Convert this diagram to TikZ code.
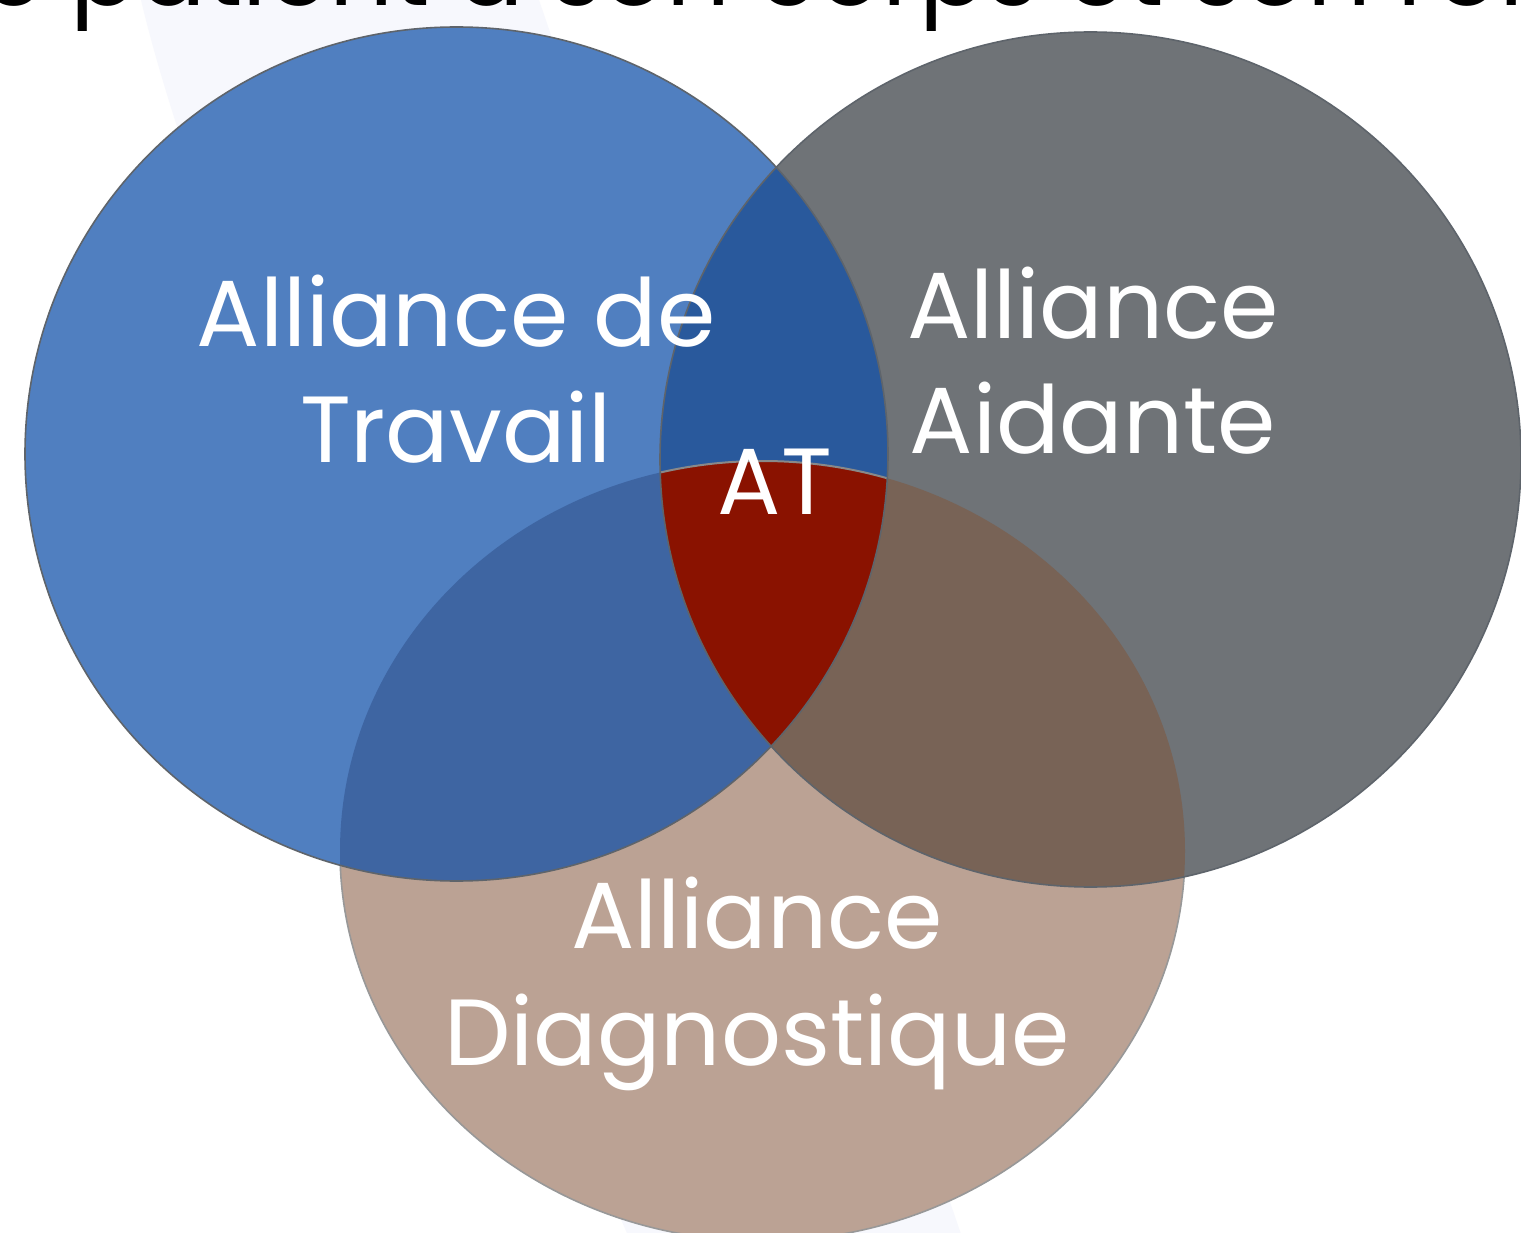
\documentclass[tikz,border=0pt]{standalone}
\usepackage{fontspec}
\setmainfont{Poppins}
\definecolor{cBlue}{HTML}{507FC0}
\definecolor{cGray}{HTML}{6F7377}
\definecolor{cBrown}{HTML}{BBA294}
\definecolor{cBlueGray}{HTML}{29599C}
\definecolor{cBlueBrown}{HTML}{3E65A2}
\definecolor{cGrayBrown}{HTML}{786356}
\definecolor{cRed}{HTML}{8A1200}
\definecolor{cStripe}{HTML}{F7F8FD}
\definecolor{cEdge}{HTML}{5E646B}
\definecolor{cEdgeLight}{HTML}{989898}
\tikzset{
  lbl/.style={text=white, inner sep=0pt, anchor=base, font=\fontsize{94}{113}\selectfont},
  edge/.style={draw=cEdge, line width=1.6pt},
  edgelight/.style={draw=cEdgeLight, line width=1.6pt},
}
\def\pathBlue{(456.5,454) ellipse [x radius=431.5pt, y radius=427pt]}
\def\pathGray{(1090.5,459.5) ellipse [x radius=430.5pt, y radius=427.5pt]}
\def\pathBrown{(762.5,851) ellipse [x radius=422.5pt, y radius=390pt]}
\begin{document}
\begin{tikzpicture}[x=1pt,y=-1pt]
\useasboundingbox (0,0) rectangle (1521,1233);
\clip (0,0) rectangle (1521,1233);
\fill[white] (0,0) rectangle (1521,1233);
% faint background swoosh
\fill[cStripe] (141,0) .. controls (200,250) and (420,760) .. (630,1240) -- (963,1240) -- (539,0) -- cycle;
% top title (cut off by the top edge)
\node[inner sep=0pt, anchor=base west, font=\fontsize{100}{110}\selectfont, text=black] (title) at (-18,6) {e patient à son corps et son rôle};
% base fills
\fill[cBrown] \pathBrown;
\draw[edgelight] \pathBrown;
\fill[cBlue] \pathBlue;
\fill[cGray] \pathGray;
% pairwise intersections
\begin{scope}
  \clip \pathBlue;
  \fill[cBlueGray] \pathGray;
  \fill[cBlueBrown] \pathBrown;
\end{scope}
\begin{scope}
  \clip \pathGray;
  \fill[cGrayBrown] \pathBrown;
\end{scope}
% triple intersection
\begin{scope}
  \clip \pathBlue;
  \clip \pathGray;
  \fill[cRed] \pathBrown;
  \draw[draw=cEdgeLight!90!black, line width=2pt] \pathBrown;
\end{scope}
% outlines
\draw[edge] \pathBlue;
\draw[edge] \pathGray;
% labels
\node[lbl] (t1) at (456,347) {Alliance de};
\node[lbl] (t2) at (456,462) {Travail};
\node[lbl] (a1) at (1093,339) {Alliance};
\node[lbl] (a2) at (1093,453) {Aidante};
\node[lbl] (at) at (775,514) {AT};
\node[lbl] (d1) at (757,948) {Alliance};
\node[lbl] (d2) at (757,1065) {Diagnostique};
\end{tikzpicture}
\end{document}
